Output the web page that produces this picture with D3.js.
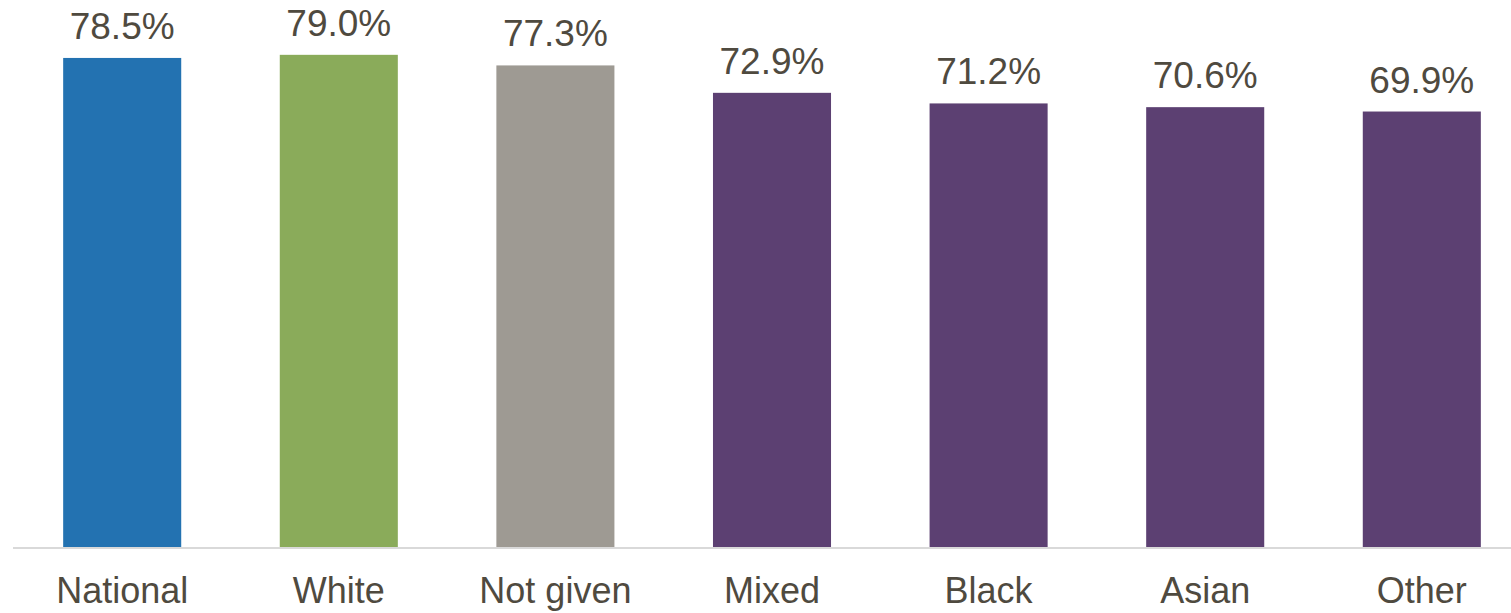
<!DOCTYPE html>
<html>
<head>
<meta charset="utf-8">
<script src="https://cdn.jsdelivr.net/npm/d3@7"></script>
<style>
  html, body { margin: 0; padding: 0; background: #fff; }
  svg { display: block; }
</style>
</head>
<body>
<svg id="chart" width="1511" height="613"></svg>
<script>
// Percentage by ethnic group
const categories = ["National", "White", "Not given", "Mixed", "Black", "Asian", "Other"];
const values = [78.5, 79.0, 77.3, 72.9, 71.2, 70.6, 69.9];
const barColors = ["#2372b1", "#8aab5a", "#9e9a93", "#5c4072", "#5c4072", "#5c4072", "#5c4072"];

const W = 1511, H = 613;
const svg = d3.select("#chart");
const textColor = "#4f4a3f";

const x = d3.scaleBand()
  .domain(categories)
  .range([14, 1530])
  .paddingInner(0.455)
  .paddingOuter(0.227);

const y = d3.scaleLinear()
  .domain([0, 80])
  .range([547, 48.6]);

// bars
svg.append("g")
  .selectAll("rect")
  .data(categories)
  .join("rect")
  .attr("x", d => x(d))
  .attr("width", x.bandwidth())
  .attr("y", (d, i) => y(values[i]))
  .attr("height", (d, i) => y(0) - y(values[i]))
  .attr("fill", (d, i) => barColors[i]);

// value labels
svg.append("g")
  .selectAll("text")
  .data(categories)
  .join("text")
  .attr("x", d => x(d) + x.bandwidth() / 2)
  .attr("y", (d, i) => y(values[i]) - 19)
  .attr("text-anchor", "middle")
  .attr("font-family", "Liberation Sans, Arial, sans-serif")
  .attr("font-size", 37)
  .attr("fill", textColor)
  .text((d, i) => values[i].toFixed(1) + "%");

// category axis
const axis = svg.append("g")
  .attr("transform", `translate(0,${y(0)})`)
  .call(d3.axisBottom(x).tickSize(0).tickPadding(0));
axis.select(".domain").remove();
axis.append("line")
  .attr("x1", 13).attr("x2", 1511)
  .attr("y1", 1).attr("y2", 1)
  .attr("stroke", "#d9d9d9").attr("stroke-width", 2);
axis.selectAll(".tick text")
  .attr("dy", 0)
  .attr("y", 56)
  .attr("font-family", "Liberation Sans, Arial, sans-serif")
  .attr("font-size", 36)
  .attr("fill", textColor);
</script>
</body>
</html>
